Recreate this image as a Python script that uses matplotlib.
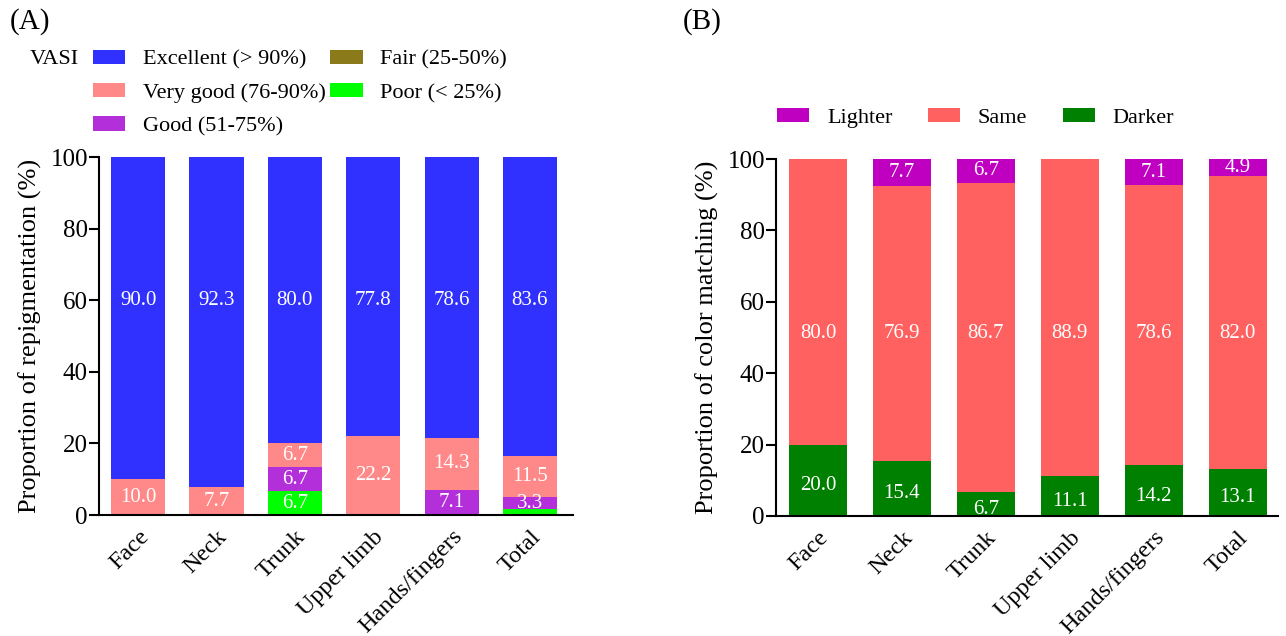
import numpy as np
import matplotlib as mpl
mpl.use('Agg')
import matplotlib.pyplot as plt

plt.rcParams['font.family'] = ['Liberation Serif', 'DejaVu Serif']

sites = ['Face', 'Neck', 'Trunk', 'Upper limb', 'Hands/fingers', 'Total']

# panel A: VASI repigmentation (%)
vasi_names = ['Excellent (> 90%)', 'Very good (76-90%)', 'Good (51-75%)',
              'Fair (25-50%)', 'Poor (< 25%)']
excellent = [90.0, 92.3, 80.0, 77.8, 78.6, 83.6]
very_good = [10.0, 7.7, 6.7, 22.2, 14.3, 11.5]
good = [0.0, 0.0, 6.7, 0.0, 7.1, 3.3]
fair = [0.0, 0.0, 0.0, 0.0, 0.0, 0.0]
poor = [0.0, 0.0, 6.7, 0.0, 0.0, 1.6]
vasi_colors = ['#3030FF', '#FF8888', '#B32FD9', '#8B7A1A', '#00FF00']

# panel B: colour matching (%)
match_names = ['Lighter', 'Same', 'Darker']
lighter = [0.0, 7.7, 6.7, 0.0, 7.1, 4.9]
same = [80.0, 76.9, 86.7, 88.9, 78.6, 82.0]
darker = [20.0, 15.4, 6.7, 11.1, 14.2, 13.1]
match_colors = ['#C000C0', '#FF6060', '#008000']

W, H = 1286, 636
fig = plt.figure(figsize=(W/100, H/100), dpi=100)
axA = fig.add_axes([99/W, 1-515/H, (573-99)/W, (515-157)/H])
axB = fig.add_axes([776/W, 1-516/H, (1278-776)/W, (516-159)/H])

x = np.arange(len(sites))
bw = 0.69

def style(ax, ylabel, xmax):
    ax.set_xlim(-0.5, xmax)
    ax.set_ylim(0, 100)
    ax.set_yticks([0, 20, 40, 60, 80, 100])
    ax.set_xticks(x)
    ax.set_xticklabels(sites, rotation=45, ha='right', rotation_mode='anchor')
    ax.tick_params(axis='x', length=0, labelsize=17.5, pad=8)
    ax.tick_params(axis='y', length=7, width=1.5, labelsize=18, pad=1)
    for s in ['top', 'right']:
        ax.spines[s].set_visible(False)
    ax.spines['left'].set_linewidth(1.5)
    ax.spines['bottom'].set_linewidth(1.5)
    ax.set_ylabel(ylabel, fontsize=19, labelpad=6)

def label(ax, xs, ys, vals):
    for xi, yi, v in zip(xs, ys, vals):
        if v > 0:
            ax.text(xi, yi, '%.1f' % v, ha='center', va='center', color='white', fontsize=15)

# panel A
stack = [poor, fair, good, very_good, excellent]
cols = vasi_colors[::-1]
names = vasi_names[::-1]
bottom = np.zeros(len(sites))
handles = {}
for vals, c, n in zip(stack, cols, names):
    v = np.array(vals)
    handles[n] = axA.bar(x, v, bw, bottom=bottom, color=c, linewidth=0, label=n)
    if n == 'Excellent (> 90%)':
        label(axA, x, [60]*len(x), v)
    else:
        lab = [vv if vv >= 3 else 0 for vv in v]
        label(axA, x, bottom + v/2, lab)
    bottom = bottom + v
style(axA, 'Proportion of repigmentation (%)', 5.55)
fig.legend([handles[n] for n in vasi_names], vasi_names, ncol=2, loc='upper left',
           bbox_to_anchor=(93/W, 1-50/H), frameon=False, fontsize=16,
           borderpad=0, borderaxespad=0,
           handlelength=1.45, handleheight=0.6, handletextpad=0.8,
           columnspacing=0.2, labelspacing=0.6)
fig.text(30/W, 1-60/H, 'VASI', fontsize=16, va='center')

# panel B
stackB = [darker, same, lighter]
colsB = match_colors[::-1]
namesB = match_names[::-1]
bottom = np.zeros(len(sites))
handlesB = {}
for vals, c, n in zip(stackB, colsB, namesB):
    v = np.array(vals)
    handlesB[n] = axB.bar(x, v, bw, bottom=bottom, color=c, linewidth=0, label=n)
    if n == 'Same':
        label(axB, x, [51]*len(x), v)
    elif n == 'Darker':
        label(axB, x, bottom + v/2 - 1.5, v)
    else:
        label(axB, x, bottom + v/2, v)
    bottom = bottom + v
style(axB, 'Proportion of color matching (%)', 5.48)
fig.legend([handlesB[n] for n in match_names], match_names, ncol=3, loc='upper left',
           bbox_to_anchor=(777/W, 1-108/H), frameon=False, fontsize=16,
           borderpad=0, borderaxespad=0,
           handlelength=1.45, handleheight=0.6, handletextpad=0.8,
           columnspacing=1.6)

fig.text(10/W, 1-22/H, '(A)', fontsize=21, va='center')
fig.text(683/W, 1-22/H, '(B)', fontsize=21, va='center')

fig.savefig('out.png', dpi=100)
plt.close()
